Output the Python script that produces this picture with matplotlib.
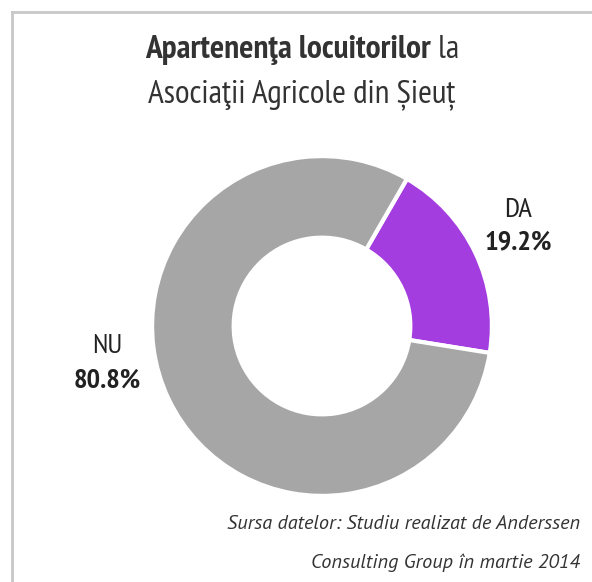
import matplotlib.pyplot as plt
from matplotlib.lines import Line2D
from matplotlib import font_manager

# data
labels = ["DA", "NU"]
values = [19.2, 80.8]
colors = ["#a43de0", "#a6a6a6"]

W, H = 592, 582

# pick a narrow family if one is installed
faces = {(f.name, f.style) for f in font_manager.fontManager.ttflist}
def pick(cands, style="normal"):
    for c in cands:
        if (c, style) in faces:
            return c
    return "DejaVu Sans"

narrow = pick(["PT Sans Narrow", "Roboto Condensed", "Open Sans Condensed",
               "Archivo Narrow", "Asap Condensed", "Barlow Semi Condensed"])
italic = pick(["PT Sans", "Roboto Condensed", "Asap Condensed",
               "Barlow Semi Condensed", "Archivo Narrow"], "italic")
plt.rcParams['font.family'] = [narrow, 'DejaVu Sans']

fig = plt.figure(figsize=(W / 100, H / 100), dpi=100)

# light frame, cut at right/bottom
fig.add_artist(Line2D([12 / W, 12 / W], [0, 1 - 12 / H], color="#c8c8c8", lw=2))
fig.add_artist(Line2D([12 / W, 1], [1 - 12 / H, 1 - 12 / H], color="#c8c8c8", lw=2))

# donut
cx, cy, box = 322, 326, 350
ax = fig.add_axes([(cx - box / 2) / W, 1 - (cy + box / 2) / H, box / W, box / H])
ax.pie(values, colors=colors, startangle=60, counterclock=False, radius=1,
       wedgeprops=dict(width=0.48, edgecolor="white", linewidth=3))
ax.set_xlim(-1.03, 1.03)
ax.set_ylim(-1.03, 1.03)
ax.set_aspect("equal")
ax.axis("off")

# title with mixed weights
def line(parts, y, size):
    fig.canvas.draw()
    r = fig.canvas.get_renderer()
    texts = []
    for s, w in parts:
        t = fig.text(0, y, s, fontsize=size, fontweight=w, color="#333333", va="center")
        texts.append(t)
    widths = [t.get_window_extent(r).width for t in texts]
    x = 302 - sum(widths) / 2
    for t, wd in zip(texts, widths):
        t.set_x(x / W)
        x += wd

line([("Apartenenţa locuitorilor", "bold"), (" la", "light")], 1 - 50 / H, 24)
line([("Asociaţii Agricole", "light"), (" din Șieuț", "normal")], 1 - 95 / H, 24)

# labels
fig.text(518 / W, 1 - 210 / H, labels[0], ha="center", va="center", fontsize=20.5, color="#222222")
fig.text(518 / W, 1 - 242 / H, f"{values[0]}%", ha="center", va="center", fontsize=20.5,
         fontweight="bold", color="#222222")
fig.text(107 / W, 1 - 346 / H, labels[1], ha="center", va="center", fontsize=20.5, color="#222222")
fig.text(107 / W, 1 - 381 / H, f"{values[1]}%", ha="center", va="center", fontsize=20.5,
         fontweight="bold", color="#222222")

# source
fig.text(580 / W, 1 - 524 / H, "Sursa datelor: Studiu realizat de Anderssen", ha="right",
         va="center", fontsize=14.6, style="italic", family=[italic, "DejaVu Sans"], color="#333333")
fig.text(580 / W, 1 - 563 / H, "Consulting Group în martie 2014", ha="right",
         va="center", fontsize=14.6, style="italic", family=[italic, "DejaVu Sans"], color="#333333")

fig.savefig("out.png", dpi=100, facecolor="white")
